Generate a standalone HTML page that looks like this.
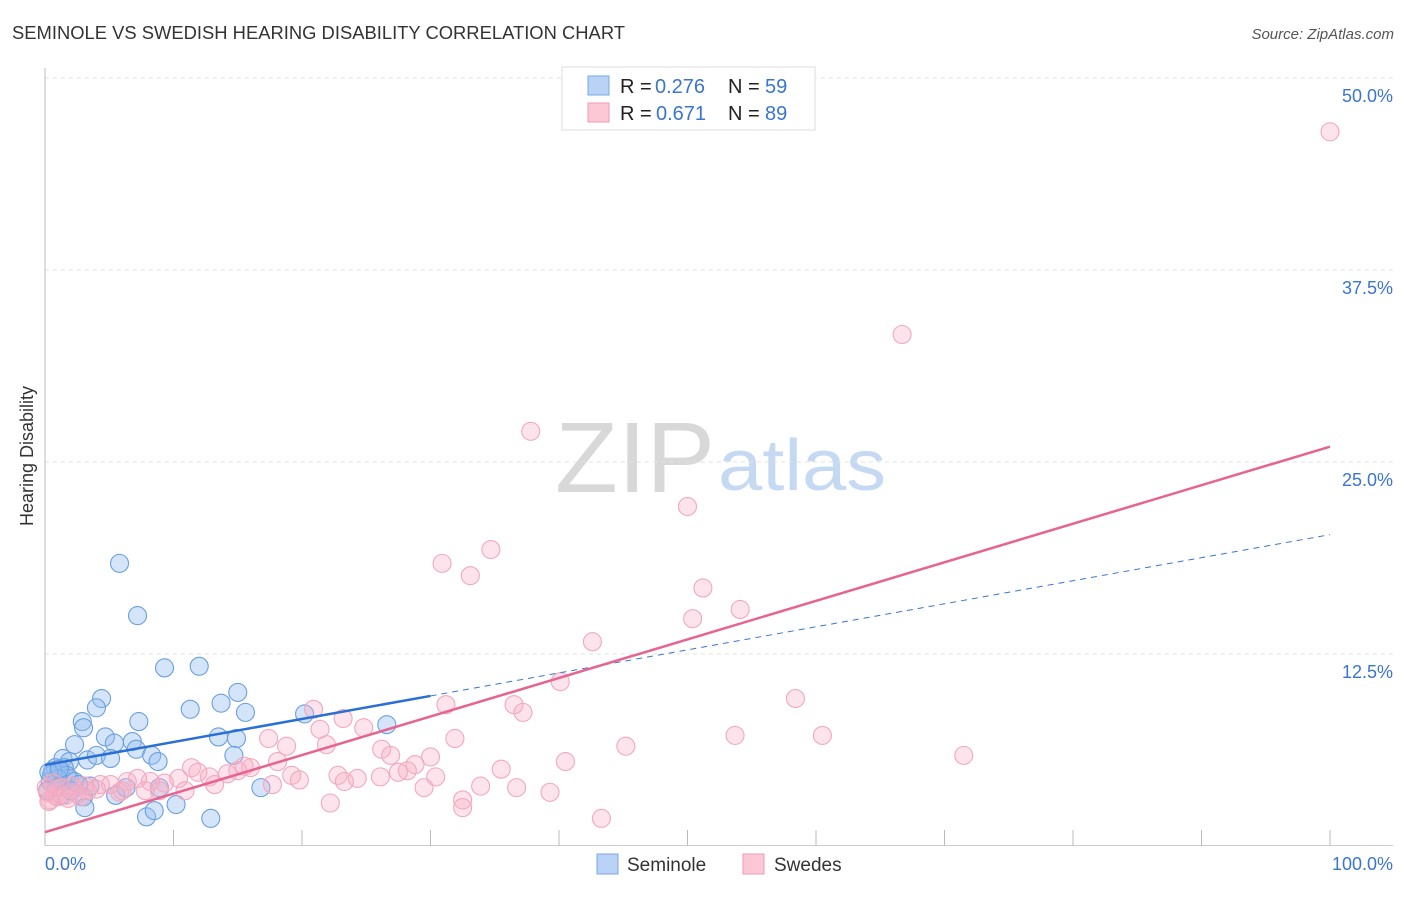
<!DOCTYPE html>
<html><head><meta charset="utf-8"><style>
body{margin:0;background:#fff;font-family:"Liberation Sans",sans-serif}
svg text{font-family:"Liberation Sans",sans-serif}
</style></head><body>
<svg id="chart" width="1406" height="892" xmlns="http://www.w3.org/2000/svg">
<text x="12" y="39" font-size="18" fill="#333" textLength="613" lengthAdjust="spacingAndGlyphs">SEMINOLE VS SWEDISH HEARING DISABILITY CORRELATION CHART</text>
<text x="1394" y="39" font-size="15" fill="#555" font-style="italic" text-anchor="end">Source: ZipAtlas.com</text>
<text transform="translate(33,456) rotate(-90)" font-size="18" fill="#333" text-anchor="middle">Hearing Disability</text>
<g>
<text x="555" y="492" font-size="100" font-family="Liberation Serif,serif" fill="#d8d8d8" textLength="160" lengthAdjust="spacingAndGlyphs">ZIP</text>
<text x="718" y="490" font-size="72" fill="#c5d9f2" textLength="168" lengthAdjust="spacingAndGlyphs">atlas</text>
</g>
<g id="grid"></g>
<g id="marks"></g>
<g>
<rect x="562" y="67" width="253" height="63" fill="#fff" stroke="#ddd"/>
<rect x="588" y="76" width="21" height="19" fill="#b8d3f5" stroke="#7aa9e6"/>
<rect x="588" y="103" width="21" height="19" fill="#fcc8d6" stroke="#f09ab4"/>
<text x="620" y="93" font-size="20" fill="#222">R =</text>
<text x="655" y="93" font-size="20" fill="#3a75d0">0.276</text>
<text x="728" y="93" font-size="20" fill="#222">N =</text>
<text x="765" y="93" font-size="20" fill="#3a75d0">59</text>
<text x="620" y="120" font-size="20" fill="#222">R =</text>
<text x="656" y="120" font-size="20" fill="#3a75d0">0.671</text>
<text x="728" y="120" font-size="20" fill="#222">N =</text>
<text x="765" y="120" font-size="20" fill="#3a75d0">89</text>
</g>
<g>
<rect x="597" y="854" width="21" height="20" fill="#b8d3f5" stroke="#7aa9e6"/>
<text x="627" y="871" font-size="19" fill="#333">Seminole</text>
<rect x="743" y="854" width="21" height="20" fill="#fcc8d6" stroke="#f09ab4"/>
<text x="774" y="871" font-size="19" fill="#333">Swedes</text>
</g>
</svg>
<script>
const yTicks=[12.5,25.0,37.5,50.0];
const yTickLabels=["12.5%","25.0%","37.5%","50.0%"];
const xTickLabels=["0.0%","100.0%"];
const seminoleX=[5.8,7.2,9.3,12.0,4.4,4.0,2.9,3.0,7.3,11.3,13.7,15.0,15.6,20.2,26.6,2.3,4.7,5.4,6.8,13.5,14.9,14.7,1.4,1.9,3.3,4.0,5.1,7.1,8.3,8.8,0.8,1.2,1.5,0.5,1.9,0.4,0.9,1.7,0.2,1.3,3.0,3.5,5.5,6.3,8.9,10.2,7.9,8.5,12.9,16.8,3.1,0.9,2.3,0.6,2.6,1.0,0.3,2.0,1.1];
const seminoleY=[18.4,15.0,11.6,11.7,9.6,9.0,8.1,7.7,8.1,8.9,9.3,10.0,8.7,8.6,7.9,6.6,7.1,6.7,6.8,7.1,7.0,5.9,5.7,5.5,5.6,5.9,5.7,6.3,5.9,5.5,5.1,4.9,5.1,4.6,4.4,4.2,4.3,4.6,3.6,3.3,3.2,3.9,3.3,3.8,3.8,2.7,1.9,2.3,1.8,3.8,2.5,3.8,4.2,4.9,4.0,4.4,4.8,3.6,5.0];
const swedesX=[100,66.7,37.8,50.0,34.7,30.9,33.1,51.2,54.1,50.4,42.6,40.1,58.4,31.2,36.5,37.2,20.9,23.2,21.4,24.8,17.4,18.8,21.9,31.9,45.2,53.7,60.5,71.5,26.2,26.9,30.0,40.5,28.8,28.2,27.5,35.5,22.8,24.3,26.1,30.4,19.2,18.1,16.0,15.0,14.2,15.5,12.8,11.4,11.9,10.4,9.3,8.2,7.2,6.4,5.1,4.3,3.1,2.1,1.3,0.8,13.2,19.8,29.5,33.9,36.7,39.3,32.5,32.5,22.2,43.3,8.9,7.8,5.8,3.3,1.6,0.4,10.9,17.7,23.3,0.2,1.0,2.5,0.6,4.0,1.8,0.3,2.8,6.0,0.1];
const swedesY=[46.5,33.3,27.0,22.1,19.3,18.4,17.6,16.8,15.4,14.8,13.3,10.7,9.6,9.2,9.2,8.7,8.9,8.3,7.6,7.7,7.0,6.5,6.6,7.0,6.5,7.2,7.2,5.9,6.3,5.9,5.8,5.5,5.3,4.9,4.8,5.0,4.6,4.4,4.5,4.5,4.6,5.5,5.1,4.9,4.7,5.2,4.5,5.1,4.8,4.4,4.1,4.2,4.4,4.2,4.0,4.0,3.9,3.9,3.8,3.3,4.0,4.3,3.8,3.9,3.8,3.5,3.0,2.5,2.8,1.8,3.6,3.6,3.5,3.6,3.3,3.0,3.6,4.0,4.2,3.5,3.2,3.4,4.1,3.7,3.1,2.9,3.2,3.6,3.8];
const seminoleTrend=[5.27,20.27]; // y at x=0, x=100
const seminoleSolidEnd=30;
const swedesTrend=[0.9,26.0];

const X=v=>45+v*12.85, Y=v=>846-v*15.36;
const NS="http://www.w3.org/2000/svg";
const grid=document.getElementById('grid'), marks=document.getElementById('marks');
function mk(tag,attrs,parent){const e=document.createElementNS(NS,tag);for(const k in attrs)e.setAttribute(k,attrs[k]);parent.appendChild(e);return e;}
yTicks.forEach((t,i)=>{
  const l=mk('line',{x1:45,x2:1393,y1:Y(t),y2:Y(t),stroke:'#e2e2e2','stroke-dasharray':'4,4'},grid);
  
  
  const tx=mk('text',{x:1393,y:Y(t)+24,'font-size':18,fill:'#3a75d0','text-anchor':'end'},grid);
  tx.textContent=yTickLabels[i];
  
  
});
const ax=mk('line',{x1:45,x2:45,y1:68,y2:846,stroke:'#bbb'},grid);


const bx=mk('line',{x1:45,x2:1393,y1:845.5,y2:845.5,stroke:'#ccc'},grid);


for(let i=1;i<=10;i++){
  const t=mk('line',{x1:X(i*10),x2:X(i*10),y1:830,y2:846,stroke:'#bbb'},grid);
  
  
}
[[0,'start'],[100,'end']].forEach((p,i)=>{
  const tx=mk('text',{x:i?1393:45,y:870,'font-size':18,fill:'#3a75d0','text-anchor':p[1]},grid);
  tx.textContent=xTickLabels[i];
  
  
});
seminoleX.forEach((v,i)=>{
  const c=mk('circle',{cx:X(v),cy:Y(seminoleY[i]),r:9,fill:'rgba(150,190,240,0.4)',stroke:'#6a9fe0','stroke-width':1.1},marks);
  
  
});
swedesX.forEach((v,i)=>{
  const c=mk('circle',{cx:X(v),cy:Y(swedesY[i]),r:9,fill:'rgba(248,175,198,0.35)',stroke:'#f2a8bd','stroke-width':1.1},marks);
  
  
});
const sy=x=>seminoleTrend[0]+(seminoleTrend[1]-seminoleTrend[0])*x/100;
const d=mk('line',{x1:X(seminoleSolidEnd),y1:Y(sy(seminoleSolidEnd)),x2:X(100),y2:Y(sy(100)),stroke:'#3a75d0','stroke-width':1,'stroke-dasharray':'6,5'},marks);


const s=mk('line',{x1:X(0),y1:Y(sy(0)),x2:X(seminoleSolidEnd),y2:Y(sy(seminoleSolidEnd)),stroke:'#2a6fd6','stroke-width':2.5},marks);


const p=mk('line',{x1:X(0),y1:Y(swedesTrend[0]),x2:X(100),y2:Y(swedesTrend[1]),stroke:'#e8638f','stroke-width':2.5},marks);


</script>
</body></html>
